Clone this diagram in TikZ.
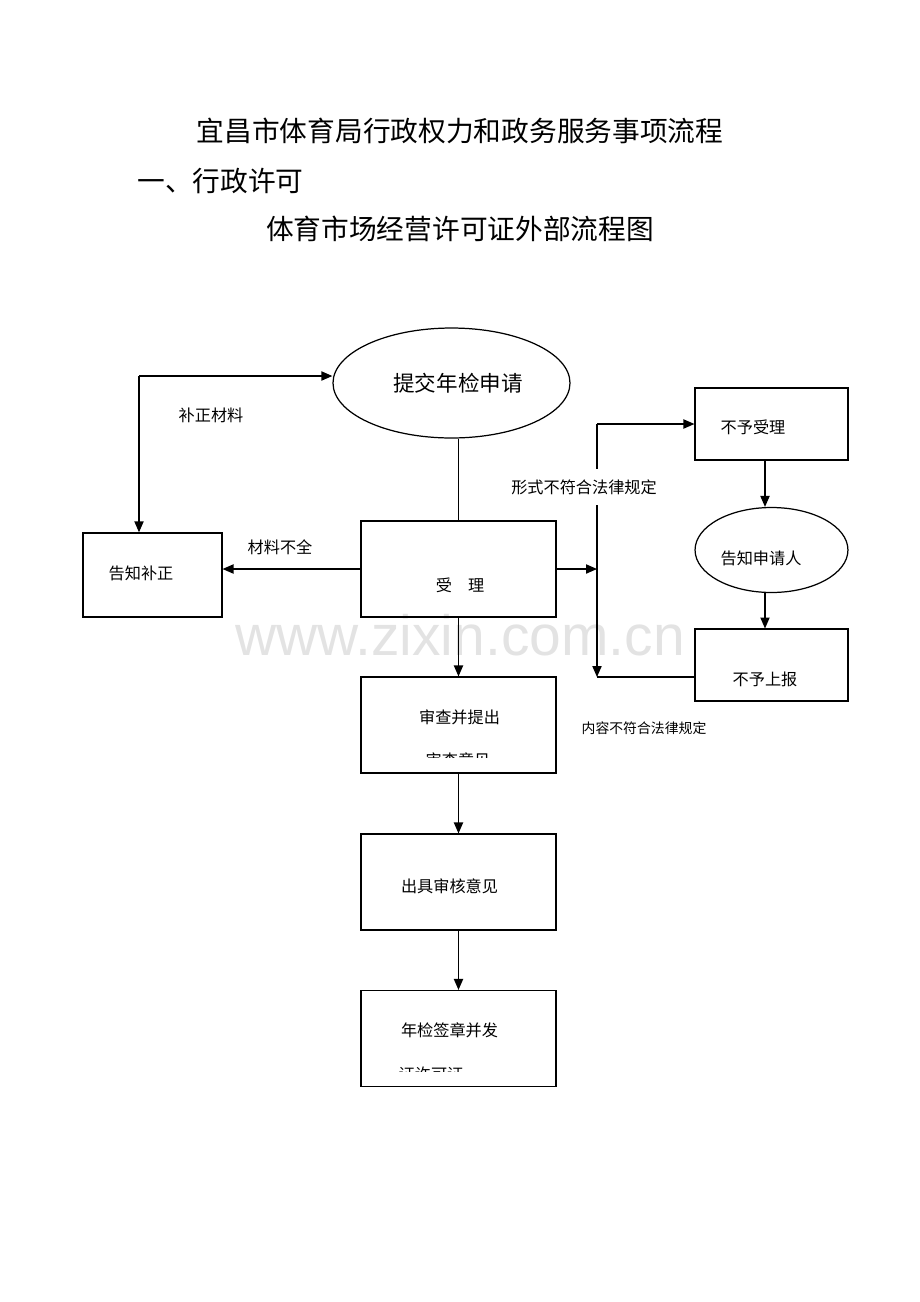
\documentclass[tikz,border=0pt]{standalone}
\usepackage{fontspec}
\setmainfont{Noto Sans CJK SC}
\newfontfamily\wmfont{Liberation Sans}
\usetikzlibrary{arrows.meta,shapes.geometric,calc}

\begin{document}
\begin{tikzpicture}[
  x=0.02283cm, y=-0.02283cm,
  box/.style={rectangle, draw, line width=0.8pt, minimum width=4.45cm, minimum height=2.19cm},
  sidebox/.style={rectangle, draw, line width=0.8pt, minimum width=3.49cm, minimum height=1.64cm},
  oval/.style={ellipse, draw, line width=0.8pt, inner sep=0pt},
  txt/.style={inner sep=0pt, font=\fontsize{10.5}{13}\selectfont},
  arrow/.style={-{Triangle[length=2.5mm,width=2.1mm]}, line width=0.8pt},
  plain/.style={line width=0.8pt}
]
\useasboundingbox (0,0) rectangle (920,1302);
\node[text=black!11, font=\wmfont\fontsize{37}{40}\selectfont] (mark) at (460,635) {www.zixin.com.cn};

\node[font=\fontsize{18}{22}\selectfont] (title) at (460,131) {宜昌市体育局行政权力和政务服务事项流程};
\node[anchor=west, inner sep=0pt, font=\fontsize{18}{22}\selectfont] (section) at (137,181) {一、行政许可};
\node[font=\fontsize{18}{22}\selectfont] (subtitle) at (460,229) {体育市场经营许可证外部流程图};

\node[oval, minimum width=5.41cm, minimum height=2.51cm] (submit) at (451.5,383) {};
\node[inner sep=0pt, font=\fontsize{14}{17}\selectfont] (submitt) at (458,383) {提交年检申请};
\node[box] (accept) at (458.5,569) {};
\node[txt] (acceptt) at (460,585) {受\quad 理};
\node[rectangle, draw, line width=0.8pt, minimum width=3.17cm, minimum height=1.92cm] (notify) at (152.5,575) {};
\node[txt] (notifyt) at (141,573) {告知补正};
\node[sidebox] (reject) at (771.5,424) {};
\node[txt] (rejectt) at (753,427) {不予受理};
\node[oval, minimum width=3.49cm, minimum height=1.94cm] (inform) at (771.5,550) {};
\node[txt] (informt) at (761,558) {告知申请人};
\node[sidebox] (noreport) at (771.5,665) {};
\node[txt] (noreportt) at (765,679) {不予上报};
\node[box] (review) at (458.5,725) {};
\node[txt] (reviewt) at (459.5,717) {审查并提出};
\begin{scope}
  \clip (361,740) rectangle (556,757);
  \node[txt] (reviewu) at (458,760) {审查意见};
\end{scope}
\node[box] (opinion) at (458.5,882) {};
\node[txt] (opiniont) at (449.5,886) {出具审核意见};
\node[box] (issue) at (458.5,1038.5) {};
\node[txt] (issuet) at (449.5,1030) {年检签章并发};
\begin{scope}
  \clip (361,1050) rectangle (556,1071);
  \node[txt] (issueu) at (431,1074) {证许可证};
\end{scope}

\coordinate (corner) at (139,376);
\coordinate (jtop) at (597,424);
\coordinate (jmid) at (597,569);
\coordinate (jbot) at (597,677);
\coordinate (rcol) at (765,0);

\draw[plain] (submit.south -| accept.north) -- (accept.north);
\draw[arrow] (accept.west) -- (accept.west -| notify.east);
\draw[arrow] (corner) -- (corner |- notify.north);
\draw[arrow] (corner) -- (corner -| submit.west);
\draw[arrow] (accept.east) -- (jmid);
\draw[arrow] (jtop) -- (reject.west);
\draw[arrow] (jtop) -- (jbot);
\draw[plain] (jbot -| noreport.west) -- (jbot);
\draw[arrow] (reject.south -| rcol) -- (inform.north -| rcol);
\draw[arrow] (inform.south -| rcol) -- (noreport.north -| rcol);
\draw[arrow] (accept) -- (review);
\draw[arrow] (review) -- (opinion);
\draw[arrow] (opinion) -- (issue);

\node[txt] (fixlbl) at (211,415) {补正材料};
\node[txt] (lacklbl) at (280,547) {材料不全};
\node[txt, fill=white, minimum height=0.84cm] (formlbl) at (584,487) {形式不符合法律规定};
\node[txt, font=\fontsize{9}{11}\selectfont] (contentlbl) at (644,728) {内容不符合法律规定};
\end{tikzpicture}
\end{document}
